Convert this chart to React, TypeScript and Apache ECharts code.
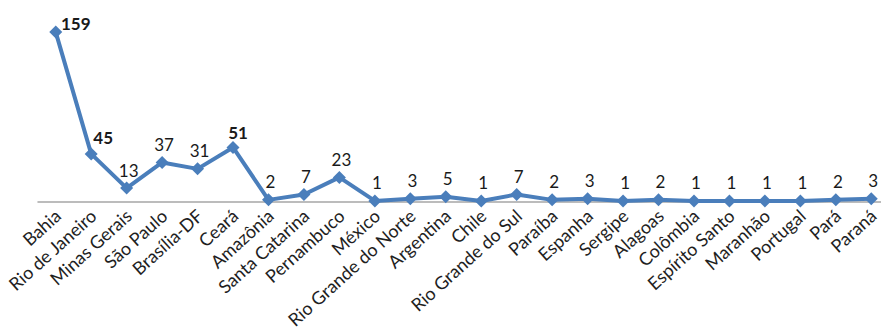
import React, { useEffect, useRef } from "react";
import * as echarts from "echarts";

const categories = [
  "Bahia", "Rio de Janeiro", "Minas Gerais", "São Paulo", "Brasília-DF", "Ceará",
  "Amazônia", "Santa Catarina", "Pernambuco", "México", "Rio Grande do Norte",
  "Argentina", "Chile", "Rio Grande do Sul", "Paraíba", "Espanha", "Sergipe",
  "Alagoas", "Colômbia", "Espírito Santo", "Maranhão", "Portugal", "Pará", "Paraná",
];
const values = [159, 45, 13, 37, 31, 51, 2, 7, 23, 1, 3, 5, 1, 7, 2, 3, 1, 2, 1, 1, 1, 1, 2, 3];
const boldValues = [159, 45, 51];

export default function App() {
  const ref = useRef<HTMLDivElement>(null);
  useEffect(() => {
    if (!ref.current) return;
    const chart = echarts.init(ref.current, null, { renderer: "svg" });
    const labelOffsets: Record<number, number[]> = {
      159: [20, 9],
      45: [12, 2],
      51: [5, 3],
    };
    const data = values.map((v) => {
      const bold = boldValues.includes(v);
      return {
        value: v,
        label: {
          fontWeight: bold ? "bold" : "normal",
          fontSize: 17,
          offset: labelOffsets[v] ?? [2, 0],
        },
      };
    });
    chart.setOption({
      animation: false,
      grid: [
        { left: 38, right: 11, top: 31, bottom: 129 },
        { left: 40, right: 9, top: 31, bottom: 129 },
      ],
      xAxis: [
        {
          type: "category",
          data: categories,
          gridIndex: 0,
          boundaryGap: true,
          axisLine: { show: true, lineStyle: { color: "#a6a6a6", width: 1.5 } },
          axisTick: { show: false },
          axisLabel: { show: false },
        },
        {
          type: "category",
          data: categories,
          gridIndex: 1,
          boundaryGap: true,
          axisLine: { show: false },
          axisTick: { show: false },
          axisLabel: {
            rotate: 42,
            interval: 0,
            margin: 24,
            fontFamily: "Lato",
            fontSize: 18,
            color: "#1f1f1f",
          },
        },
      ],
      yAxis: [
        { type: "value", gridIndex: 0, min: 0, max: 160, show: false, splitLine: { show: false } },
        { type: "value", gridIndex: 1, min: 0, max: 160, show: false, splitLine: { show: false } },
      ],
      series: [
        {
          type: "line",
          xAxisIndex: 0,
          yAxisIndex: 0,
          data,
          symbol: "diamond",
          symbolSize: 13,
          lineStyle: { color: "#4a7ebb", width: 4 },
          itemStyle: { color: "#4a7ebb" },
          label: {
            show: true,
            position: "top",
            distance: 3,
            fontFamily: "Lato",
            fontSize: 17,
            color: "#1a1a1a",
          },
        },
      ],
    });
    return () => chart.dispose();
  }, []);
  return (
    <div style={{ position: "absolute", left: 0, top: 0, width: 881, height: 331, overflow: "hidden", background: "#fff" }}>
      <div ref={ref} style={{ width: 900, height: 331 }} />
    </div>
  );
}
